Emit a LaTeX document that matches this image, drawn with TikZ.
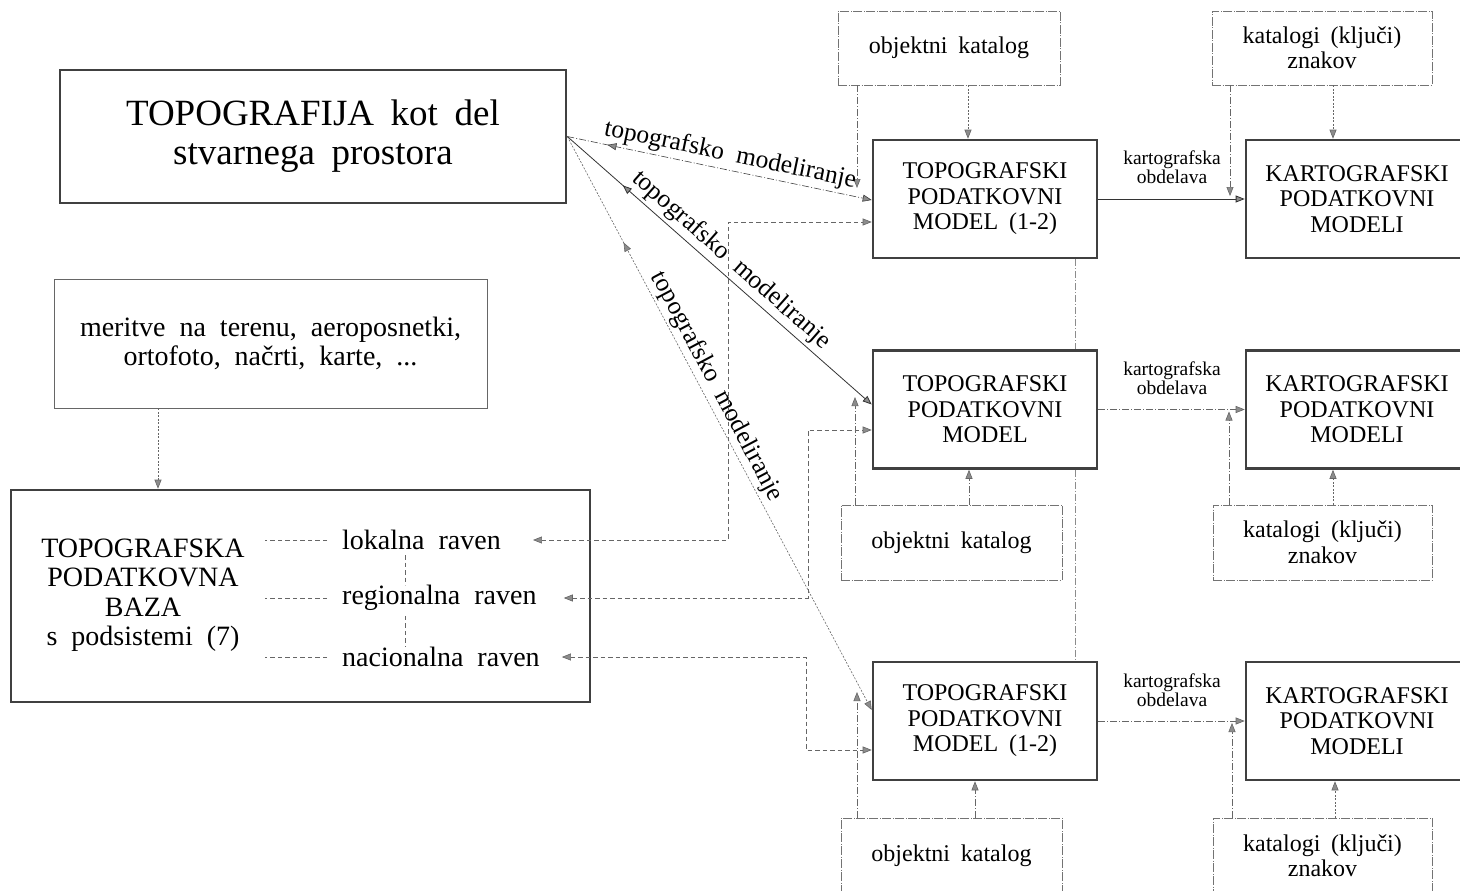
\documentclass[tikz,border=0pt]{standalone}
\usepackage{fontspec}
\setmainfont{Liberation Serif}
\usetikzlibrary{arrows.meta,decorations.markings}
\newcommand\fBig{\fontsize{37}{39}\selectfont\spaceskip=0.45em\relax}
\newcommand\fMed{\fontsize{28}{29.5}\selectfont\spaceskip=0.5em\relax}
\newcommand\fBox{\fontsize{24}{25.5}\selectfont\spaceskip=0.45em\relax}
\newcommand\fLab{\fontsize{25.5}{27}\selectfont\spaceskip=0.5em\relax}
\newcommand\fSm{\fontsize{19.5}{19}\selectfont}
\begin{document}
\begin{tikzpicture}[x=1pt,y=-1pt,
  thickbox/.style={draw=black!75, line width=2.6pt, align=center, inner sep=0pt},
  thinbox/.style={draw=black!55, line width=0.7pt, dash pattern=on 9pt off 1.5pt on 1pt off 1.5pt, align=center, inner sep=0pt},
  txt/.style={inner sep=0pt, align=center},
  arr/.style={-{Triangle[length=9pt,width=7pt,fill=black!45]}},
  barr/.style={{Triangle[length=9pt,width=7pt,fill=black!45]}-{Triangle[length=9pt,width=7pt,fill=black!45]}},
  dotl/.style={draw=black!60, line width=0.6pt, dash pattern=on 2pt off 1.5pt},
  dashdotl/.style={draw=black!60, line width=0.6pt, dash pattern=on 7pt off 2pt on 1pt off 2pt},
  lvl/.style={draw=black!60, line width=0.6pt, dash pattern=on 4.5pt off 3pt},
  solidl/.style={draw=black!80, line width=0.8pt},
  backtip/.style={postaction={decorate}, decoration={markings, mark=at position #1 with {\arrowreversed{Triangle[length=9pt,width=7pt,fill=black!45]}}}}
]
\useasboundingbox (0,0) rectangle (1460,891);

% ---------- left side ----------
\node[thickbox, minimum width=506pt, minimum height=133pt, font=\fBig] (topo) at (313,136.5)
  {TOPOGRAFIJA kot del\\stvarnega prostora};
\node[thinbox, solid, draw=black!60, minimum width=433pt, minimum height=129pt, font=\fMed] (meas) at (270.5,343.5)
  {meritve na terenu, aeroposnetki,\\ortofoto, načrti, karte, ...};
\node[thickbox, minimum width=579pt, minimum height=212pt] (db) at (300.5,596) {};
\node[txt, font=\fMed] (dbt) at (143,595) {TOPOGRAFSKA\\PODATKOVNA\\BAZA\\s podsistemi (7)};
\node[txt, font=\fMed, anchor=west] (lok) at (342,540) {lokalna raven};
\node[txt, font=\fMed, anchor=west] (reg) at (342,598) {regionalna raven};
\node[txt, font=\fMed, anchor=west] (nac) at (342,657) {nacionalna raven};

\coordinate (xM) at (158,0);
\draw[dotl, arr] (meas.south -| xM) -- (db.north -| xM);

\draw[lvl] ([xshift=-15pt]lok.west) -- ++(-62,0);
\draw[lvl] ([xshift=-15pt]reg.west) -- ++(-62,0);
\draw[lvl] ([xshift=-15pt]nac.west) -- ++(-62,0);
\coordinate (xV) at (405,0);
\draw[lvl] (lok.south -| xV) ++(0,5) -- (reg.north -| xV);
\draw[lvl] (reg.south -| xV) ++(0,5) -- (nac.north -| xV);

% ---------- right column ----------
\node[thinbox, minimum width=222pt, minimum height=74pt, font=\fBox] (ok1) at (949,48) {objektni katalog};
\node[thinbox, minimum width=220pt, minimum height=74pt, font=\fBox] (kz1) at (1322,48) {katalogi (ključi)\\znakov};
\node[thickbox, minimum width=224pt, minimum height=118pt, font=\fBox] (tdm1) at (985,199) {TOPOGRAFSKI\\PODATKOVNI\\MODEL (1-2)};
\node[thickbox, minimum width=222pt, minimum height=118pt, font=\fBox] (kdm1) at (1357,199) {KARTOGRAFSKI\\PODATKOVNI\\MODELI};

\node[thickbox, minimum width=224pt, minimum height=118pt, font=\fBox] (tdm2) at (985,409.5) {TOPOGRAFSKI\\PODATKOVNI\\MODEL};
\node[thickbox, minimum width=222pt, minimum height=118pt, font=\fBox] (kdm2) at (1357,409.5) {KARTOGRAFSKI\\PODATKOVNI\\MODELI};
\node[thinbox, minimum width=221pt, minimum height=75pt, font=\fBox] (ok2) at (951.5,542.5) {objektni katalog};
\node[thinbox, minimum width=219pt, minimum height=75pt, font=\fBox] (kz2) at (1322.5,542.5) {katalogi (ključi)\\znakov};

\node[thickbox, minimum width=224pt, minimum height=118pt, font=\fBox] (tdm3) at (985,721) {TOPOGRAFSKI\\PODATKOVNI\\MODEL (1-2)};
\node[thickbox, minimum width=222pt, minimum height=118pt, font=\fBox] (kdm3) at (1357,721) {KARTOGRAFSKI\\PODATKOVNI\\MODELI};
\node[thinbox, minimum width=221pt, minimum height=76pt, font=\fBox] (ok3) at (951.5,856) {objektni katalog};
\node[thinbox, minimum width=219pt, minimum height=76pt, font=\fBox] (kz3) at (1322.5,856) {katalogi (ključi)\\znakov};

% kartografska obdelava labels
\node[txt, font=\fSm] (kb1) at (1172,167) {kartografska\\obdelava};
\node[txt, font=\fSm] (kb2) at (1172,378) {kartografska\\obdelava};
\node[txt, font=\fSm] (kb3) at (1172,690) {kartografska\\obdelava};

% horizontal arrows TDM -> KDM
\draw[solidl, arr] (tdm1.east) -- (kdm1.west);
\draw[dashdotl, arr] (tdm2.east) -- (kdm2.west);
\draw[dashdotl, arr] (tdm3.east) -- (kdm3.west);

% catalogue connectors
\coordinate (c1) at (968,0);
\coordinate (c2) at (969,0);
\coordinate (c3) at (975,0);
\coordinate (k1) at (1333,0);
\coordinate (k2) at (1333,0);
\coordinate (k3) at (1335,0);
\draw[dotl, arr] (ok1.south -| c1) -- (tdm1.north -| c1);
\draw[dashdotl, arr] (ok2.north -| c2) -- (tdm2.south -| c2);
\draw[dashdotl, arr] (ok3.north -| c3) -- (tdm3.south -| c3);
\draw[dotl, arr] (kz1.south -| k1) -- (kdm1.north -| k1);
\draw[dotl, arr] (kz2.north -| k2) -- (kdm2.south -| k2);
\draw[dotl, arr] (kz3.north -| k3) -- (kdm3.south -| k3);

\coordinate (kl1) at (1230,0);
\coordinate (kl2) at (1229,0);
\coordinate (kl3) at (1232,0);
\draw[dashdotl, arr, shorten >=3pt] (kz1.south -| kl1) -- (kl1 |- tdm1.east);
\draw[dashdotl, arr, shorten >=2pt] (kz2.north -| kl2) -- (kl2 |- tdm2.east);
\draw[dashdotl, arr, shorten >=2pt] (kz3.north -| kl3) -- (kl3 |- tdm3.east);

\coordinate (ol1) at (857,188);
\coordinate (ol2) at (855,397);
\coordinate (ol3) at (857,692);
\draw[dashdotl, arr] (ok1.south -| ol1) -- (ol1);
\draw[dashdotl, arr] (ok2.north -| ol2) -- (ol2);
\draw[dashdotl, arr] (ok3.north -| ol3) -- (ol3);

% vertical dashed line between TDM boxes
\coordinate (xr) at (1075,0);
\draw[dashdotl, draw=black!45] (tdm1.south -| xr) -- (tdm2.north -| xr);
\draw[dashdotl, draw=black!45] (tdm2.south -| xr) -- (tdm3.north -| xr);

% ---------- modelling arrows ----------
\draw[dashdotl, draw=black!75, arr, backtip=41pt] (topo.east) -- node[pos=0.525, sloped, above, inner sep=3pt, font=\fLab] (lm1) {topografsko modeliranje} ([yshift=-1pt]tdm1.west);
\draw[solidl, arr, backtip=74pt] (topo.east) -- node[pos=0.505, sloped, above, inner sep=3.5pt, font=\fLab] (lm2) {topografsko modeliranje} ([yshift=5pt]tdm2.west);
\draw[dotl, arr, backtip=120pt] (topo.east) -- node[pos=0.448, sloped, above, inner sep=2.5pt, font=\fLab] (lm3) {topografsko modeliranje} ([yshift=11pt]tdm3.west);

% ---------- level connectors ----------
\coordinate (b1) at (728,222);
\coordinate (b2) at (808,430);
\coordinate (b3) at (806,750);
\draw[lvl, barr] ([xshift=32pt]lok.east) -| (b1) -- ([yshift=-23pt]tdm1.west);
\draw[lvl, barr] ([xshift=27pt]reg.east) -| (b2) -- ([yshift=-20.5pt]tdm2.west);
\draw[lvl, barr] ([xshift=22pt]nac.east) -| (b3) -- ([yshift=-29pt]tdm3.west);
\end{tikzpicture}
\end{document}
